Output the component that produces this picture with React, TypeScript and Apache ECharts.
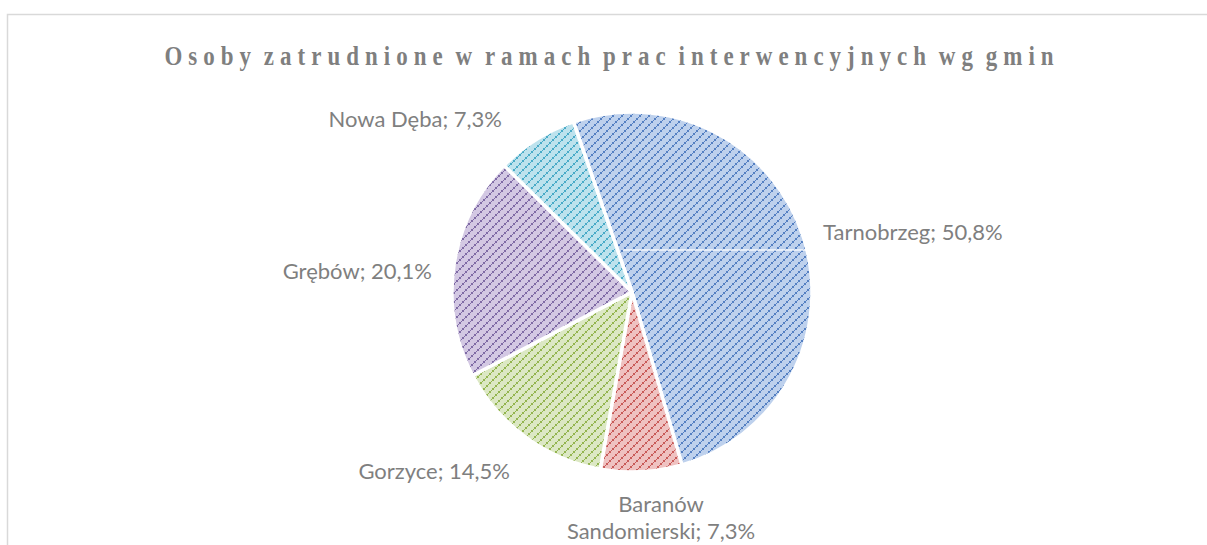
import React, { useEffect, useRef } from "react";
import * as echarts from "echarts";

const TITLE = "Osoby zatrudnione w ramach prac interwencyjnych wg gmin";
const categories = ["Tarnobrzeg", "Baranów Sandomierski", "Gorzyce", "Grębów", "Nowa Dęba"];
const labelTexts = ["Tarnobrzeg", "Baranów\nSandomierski", "Gorzyce", "Grębów", "Nowa Dęba"];
const percents = [50.8, 7.3, 14.5, 20.1, 7.3];

const bgColors = ["#bed1ed", "#efc2c1", "#dce8c4", "#d3c8e3", "#bde2ed"];
const dotColors = ["#5580c2", "#c85b59", "#93b54f", "#7f6ba5", "#48aac7"];

// label anchor positions (layout only)
const labelPos = [
  { x: 823, y: 231, align: "left" },
  { x: 661, y: 517, align: "center" },
  { x: 510, y: 470, align: "right" },
  { x: 432, y: 270, align: "right" },
  { x: 502, y: 118, align: "right" },
];

function makePattern(bg: string, dot: string) {
  const c = document.createElement("canvas");
  c.width = 9;
  c.height = 9;
  const ctx = c.getContext("2d")!;
  ctx.fillStyle = bg;
  ctx.fillRect(0, 0, 9, 9);
  ctx.fillStyle = dot;
  const pts = [
    [0, 7],
    [3, 4],
    [6, 1],
  ];
  pts.forEach(([x, y]) => {
    ctx.fillRect(x, y, 2, 2);
    ctx.fillRect(x + 2, y - 1, 1, 1);
  });
  return c;
}

export default function App() {
  const ref = useRef<HTMLDivElement>(null);
  useEffect(() => {
    document.body.style.margin = "0";
    const chart = echarts.init(ref.current!, undefined, { renderer: "svg" });
    const data = categories.map((name, i) => ({
      name,
      value: percents[i],
      itemStyle: {
        color: { image: makePattern(bgColors[i], dotColors[i]), repeat: "repeat" } as any,
      },
    }));
    const scaleX = 0.82;
    chart.setOption({
      animation: false,
      backgroundColor: "#ffffff",
      graphic: [
        {
          type: "rect",
          shape: { x: 7.5, y: 14.5, width: 1300, height: 700 },
          style: { fill: "none", stroke: "#d9d9d9", lineWidth: 1.5 },
          silent: true,
        },
        {
          type: "text",
          id: "title",
          x: 612,
          y: 56,
          scaleX,
          style: {
            text: TITLE,
            fill: "#7f7f7f",
            font: "bold 28px 'Liberation Serif', serif",
            textAlign: "center",
            textVerticalAlign: "middle",
          },
        },
        {
          type: "line",
          shape: { x1: 623, y1: 250, x2: 810, y2: 250 },
          style: { stroke: "rgba(255,255,255,0.85)", lineWidth: 1.5 },
          silent: true,
          z: 100,
        },
      ],
      series: [
        {
          type: "pie",
          center: [632, 292],
          radius: 180,
          startAngle: 109,
          clockwise: true,
          data,
          itemStyle: { borderColor: "#ffffff", borderWidth: 3.5 },
          label: {
            show: true,
            position: "outside",
            color: "#7f7f7f",
            fontFamily: "Lato, 'Open Sans', sans-serif",
            fontSize: 22,
            lineHeight: 27,
            formatter: (p: any) =>
              labelTexts[p.dataIndex] + "; " + percents[p.dataIndex].toFixed(1).replace(".", ",") + "%",
          },
          labelLine: { show: false },
          labelLayout: (p: any) => {
            const lp = labelPos[p.dataIndex];
            return { x: lp.x, y: lp.y, align: lp.align, verticalAlign: "middle" };
          },
          emphasis: { disabled: true },
        },
      ],
    });
    // emulate Excel's title letter spacing
    const texts = ref.current!.querySelectorAll("text");
    texts.forEach((t: any) => {
      if (t.textContent === TITLE && t.getComputedTextLength) {
        t.setAttribute("word-spacing", "-6");
        const natural = t.getComputedTextLength();
        const target = 895 / scaleX;
        const ls = (target - natural) / TITLE.length;
        t.setAttribute("letter-spacing", ls.toFixed(2));
      }
    });
    return () => chart.dispose();
  }, []);
  return <div ref={ref} style={{ width: 1207, height: 545 }} />;
}
